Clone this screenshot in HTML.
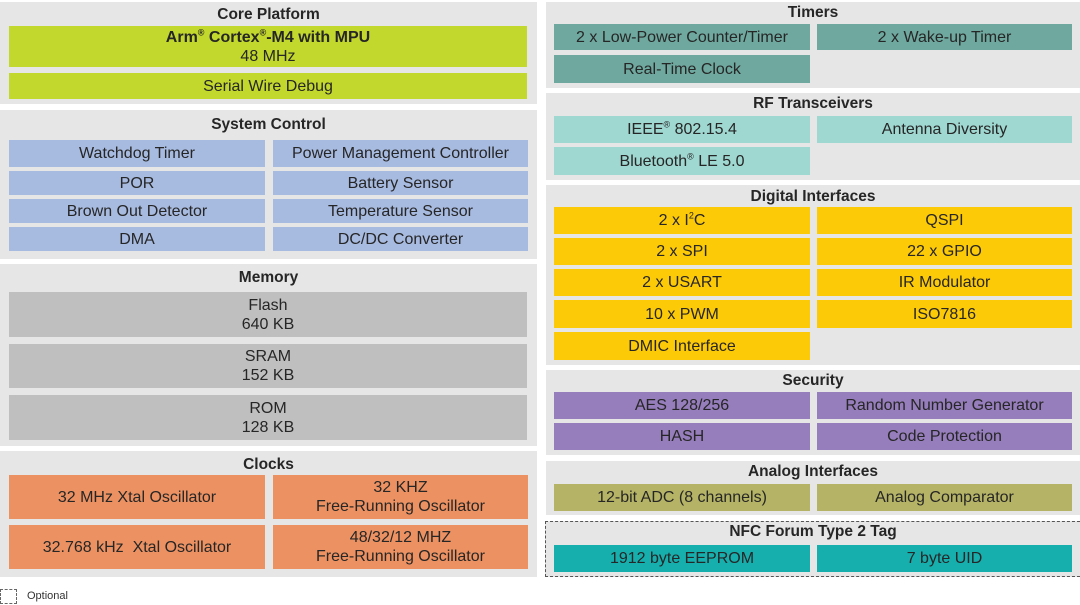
<!DOCTYPE html>
<html><head><meta charset="utf-8"><style>
body{margin:0;width:1080px;height:605px;background:#fff;position:relative;overflow:hidden;font-family:"Liberation Sans",Arial,sans-serif;color:#262626}
.s{position:absolute;background:#e6e6e6}
.t{position:absolute;font-weight:bold;font-size:15.5px;text-align:center;line-height:18px;margin-top:1px}
.b{position:absolute;display:flex;align-items:center;justify-content:center;text-align:center;font-size:16px;line-height:19px}
.g{background:#c2d82c}.bl{background:#a7bae0}.gr{background:#bfbfbf}.o{background:#ec9162}
.tm{background:#6ea89f}.rf{background:#9fd7d1}.y{background:#fdca08}.p{background:#967dbb}.ol{background:#b5b365}.n{background:#17afae}
sup{font-size:9px;line-height:0}
</style></head><body>
<!-- Left column -->
<div class="s" style="left:0;top:2px;width:537px;height:102px"></div>
<div class="t" style="left:0;top:5px;width:537px">Core Platform</div>
<div class="b g" style="left:9px;top:26px;width:518px;height:41px;font-weight:bold"><div>Arm<sup>®</sup> Cortex<sup>®</sup>-M4 with MPU<br><span style="font-weight:normal">48 MHz</span></div></div>
<div class="b g" style="left:9px;top:73px;width:518px;height:26px">Serial Wire Debug</div>

<div class="s" style="left:0;top:110px;width:537px;height:149px"></div>
<div class="t" style="left:0;top:115px;width:537px">System Control</div>
<div class="b bl" style="left:9px;top:140px;width:256px;height:27px">Watchdog Timer</div>
<div class="b bl" style="left:273px;top:140px;width:255px;height:27px">Power Management Controller</div>
<div class="b bl" style="left:9px;top:171px;width:256px;height:24px">POR</div>
<div class="b bl" style="left:273px;top:171px;width:255px;height:24px">Battery Sensor</div>
<div class="b bl" style="left:9px;top:199px;width:256px;height:24px">Brown Out Detector</div>
<div class="b bl" style="left:273px;top:199px;width:255px;height:24px">Temperature Sensor</div>
<div class="b bl" style="left:9px;top:227px;width:256px;height:24px">DMA</div>
<div class="b bl" style="left:273px;top:227px;width:255px;height:24px">DC/DC Converter</div>

<div class="s" style="left:0;top:264px;width:537px;height:182px"></div>
<div class="t" style="left:0;top:268px;width:537px">Memory</div>
<div class="b gr" style="left:9px;top:292px;width:518px;height:45px">Flash<br>640 KB</div>
<div class="b gr" style="left:9px;top:344px;width:518px;height:44px">SRAM<br>152 KB</div>
<div class="b gr" style="left:9px;top:395px;width:518px;height:45px">ROM<br>128 KB</div>

<div class="s" style="left:0;top:451px;width:537px;height:126px"></div>
<div class="t" style="left:0;top:455px;width:537px">Clocks</div>
<div class="b o" style="left:9px;top:475px;width:256px;height:44px">32 MHz Xtal Oscillator</div>
<div class="b o" style="left:273px;top:475px;width:255px;height:44px">32 KHZ<br>Free-Running Oscillator</div>
<div class="b o" style="left:9px;top:525px;width:256px;height:44px">32.768 kHz&nbsp; Xtal Oscillator</div>
<div class="b o" style="left:273px;top:525px;width:255px;height:44px">48/32/12 MHZ<br>Free-Running Oscillator</div>

<!-- Right column -->
<div class="s" style="left:546px;top:2px;width:534px;height:86px"></div>
<div class="t" style="left:546px;top:3px;width:534px">Timers</div>
<div class="b tm" style="left:554px;top:24px;width:256px;height:26px">2 x Low-Power Counter/Timer</div>
<div class="b tm" style="left:817px;top:24px;width:255px;height:26px">2 x Wake-up Timer</div>
<div class="b tm" style="left:554px;top:55px;width:256px;height:28px">Real-Time Clock</div>

<div class="s" style="left:546px;top:93px;width:534px;height:87px"></div>
<div class="t" style="left:546px;top:94px;width:534px">RF Transceivers</div>
<div class="b rf" style="left:554px;top:116px;width:256px;height:27px"><span>IEEE<sup>®</sup> 802.15.4</span></div>
<div class="b rf" style="left:817px;top:116px;width:255px;height:27px">Antenna Diversity</div>
<div class="b rf" style="left:554px;top:147px;width:256px;height:28px"><span>Bluetooth<sup>®</sup> LE 5.0</span></div>

<div class="s" style="left:546px;top:185px;width:534px;height:180px"></div>
<div class="t" style="left:546px;top:187px;width:534px">Digital Interfaces</div>
<div class="b y" style="left:554px;top:207px;width:256px;height:27px"><span>2 x I<sup>2</sup>C</span></div>
<div class="b y" style="left:817px;top:207px;width:255px;height:27px">QSPI</div>
<div class="b y" style="left:554px;top:238px;width:256px;height:27px">2 x SPI</div>
<div class="b y" style="left:817px;top:238px;width:255px;height:27px">22 x GPIO</div>
<div class="b y" style="left:554px;top:269px;width:256px;height:27px">2 x USART</div>
<div class="b y" style="left:817px;top:269px;width:255px;height:27px">IR Modulator</div>
<div class="b y" style="left:554px;top:300px;width:256px;height:28px">10 x PWM</div>
<div class="b y" style="left:817px;top:300px;width:255px;height:28px">ISO7816</div>
<div class="b y" style="left:554px;top:332px;width:256px;height:28px">DMIC Interface</div>

<div class="s" style="left:546px;top:370px;width:534px;height:85px"></div>
<div class="t" style="left:546px;top:371px;width:534px">Security</div>
<div class="b p" style="left:554px;top:392px;width:256px;height:27px">AES 128/256</div>
<div class="b p" style="left:817px;top:392px;width:255px;height:27px">Random Number Generator</div>
<div class="b p" style="left:554px;top:423px;width:256px;height:27px">HASH</div>
<div class="b p" style="left:817px;top:423px;width:255px;height:27px">Code Protection</div>

<div class="s" style="left:546px;top:461px;width:534px;height:54px"></div>
<div class="t" style="left:546px;top:462px;width:534px">Analog Interfaces</div>
<div class="b ol" style="left:554px;top:484px;width:256px;height:27px">12-bit ADC (8 channels)</div>
<div class="b ol" style="left:817px;top:484px;width:255px;height:27px">Analog Comparator</div>

<div class="s" style="left:545px;top:521px;width:540px;height:56px;border:1px dashed #555;box-sizing:border-box"></div>
<div class="t" style="left:546px;top:522px;width:534px">NFC Forum Type 2 Tag</div>
<div class="b n" style="left:554px;top:545px;width:256px;height:27px">1912 byte EEPROM</div>
<div class="b n" style="left:817px;top:545px;width:255px;height:27px">7 byte UID</div>

<div style="position:absolute;left:0;top:589px;width:17px;height:15px;border:1px dashed #666;box-sizing:border-box"></div>
<div style="position:absolute;left:27px;top:590px;font-size:11px;color:#333">Optional</div>
</body></html>
